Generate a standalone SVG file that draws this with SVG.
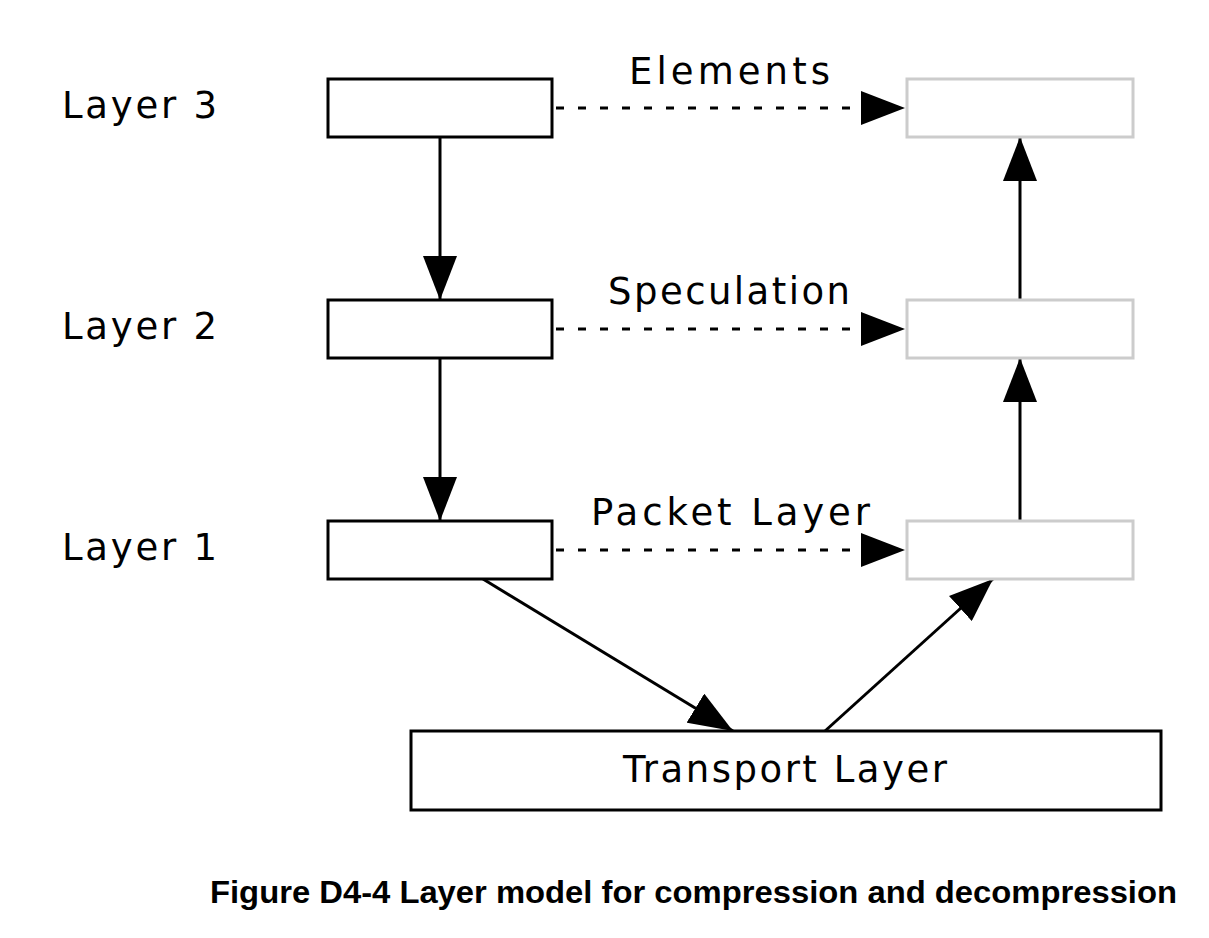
<svg xmlns="http://www.w3.org/2000/svg" width="1209" height="938" viewBox="0 0 1209 938">
<style>
.b{fill:#fff;stroke:#000;stroke-width:3}
.g{fill:#fff;stroke:#ccc;stroke-width:3}
.t{font-family:"DejaVu Sans",sans-serif;font-size:37px;fill:#000}
.l{stroke:#000;stroke-width:3;fill:none}
.d{stroke:#000;stroke-width:3;stroke-dasharray:8,14;fill:none}
</style>
<defs><marker id="a" markerUnits="userSpaceOnUse" markerWidth="46" markerHeight="34" refX="44" refY="17" orient="auto"><path d="M0,0L44,17L0,34z" fill="#000"/></marker></defs>
<rect width="1209" height="938" fill="#fff"/>
<g id="labels">
<text class="t" x="62" y="118" textLength="155" lengthAdjust="spacing">Layer 3</text>
<text class="t" x="62" y="339" textLength="155" lengthAdjust="spacing">Layer 2</text>
<text class="t" x="62" y="560" textLength="155" lengthAdjust="spacing">Layer 1</text>
</g>
<g id="connectors">
<line class="d" x1="556" y1="108" x2="905" y2="108" marker-end="url(#a)"/>
<line class="d" x1="556" y1="329" x2="905" y2="329" marker-end="url(#a)"/>
<line class="d" x1="556" y1="550" x2="905" y2="550" marker-end="url(#a)"/>
<line class="l" x1="440" y1="137" x2="440" y2="300" marker-end="url(#a)"/>
<line class="l" x1="440" y1="358" x2="440" y2="521" marker-end="url(#a)"/>
<line class="l" x1="1020" y1="300" x2="1020" y2="137" marker-end="url(#a)"/>
<line class="l" x1="1020" y1="521" x2="1020" y2="358" marker-end="url(#a)"/>
<line class="l" x1="483" y1="579" x2="733" y2="731" marker-end="url(#a)"/>
<line class="l" x1="825" y1="731" x2="993" y2="579" marker-end="url(#a)"/>
</g>
<g id="l3"><rect class="b" x="328" y="79" width="224" height="58"/></g>
<g id="l2"><rect class="b" x="328" y="300" width="224" height="58"/></g>
<g id="l1"><rect class="b" x="328" y="521" width="224" height="58"/></g>
<g id="r3"><rect class="g" x="907" y="79" width="226" height="58"/></g>
<g id="r2"><rect class="g" x="907" y="300" width="226" height="58"/></g>
<g id="r1"><rect class="g" x="907" y="521" width="226" height="58"/></g>
<g id="transport"><rect class="b" x="411" y="731" width="750" height="79"/>
<text class="t" x="623" y="782" textLength="324" lengthAdjust="spacing">Transport Layer</text></g>
<g id="edge-labels">
<text class="t" x="629" y="84" textLength="201" lengthAdjust="spacing">Elements</text>
<text class="t" x="608" y="304" textLength="242" lengthAdjust="spacing">Speculation</text>
<text class="t" x="591" y="525" textLength="279" lengthAdjust="spacing">Packet Layer</text>
</g>
<text x="210" y="903" textLength="967" lengthAdjust="spacingAndGlyphs" font-family="Liberation Sans,Arial,sans-serif" font-weight="bold" font-size="31">Figure D4-4 Layer model for compression and decompression</text>
</svg>
